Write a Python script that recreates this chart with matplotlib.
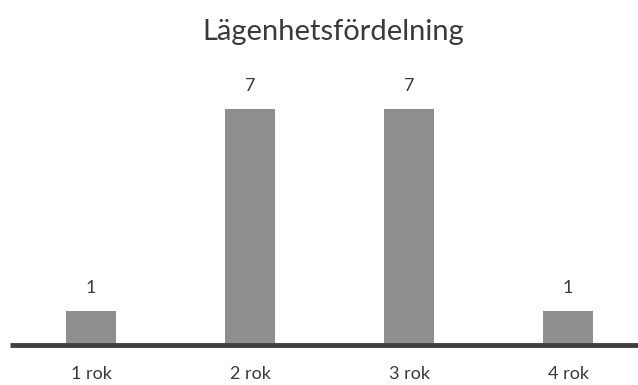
import matplotlib.pyplot as plt
import numpy as np

# Antal lägenheter per storlek
kategorier = ["1 rok", "2 rok", "3 rok", "4 rok"]
antal = [1, 7, 7, 1]

TEXTFARG = "#3a3a3a"
STAPELFARG = "#8e8e8e"

plt.rcParams['font.family'] = ['Lato', 'DejaVu Sans']

fig = plt.figure(figsize=(6.38, 3.85), dpi=100)
ax = fig.add_axes([0, 0.104, 1, 0.70])

x = np.arange(len(kategorier))
ax.bar(x, antal, width=0.32, color=STAPELFARG, zorder=2)

# Värdeetiketter ovanför staplarna
for xi, v in zip(x, antal):
    ax.text(xi, v + 0.45, str(v), ha='center', va='bottom',
            fontsize=13, color=TEXTFARG)

ax.set_xlim(-0.572, 3.44)
ax.set_ylim(0, 8)
# Baslinje, börjar en bit in från vänsterkanten
ax.plot([-0.51, 3.44], [0, 0], color="#404040", linewidth=3.5,
        solid_capstyle='butt', zorder=3, clip_on=False)

for s in ax.spines.values():
    s.set_visible(False)
ax.set_yticks([])
ax.set_xticks(x)
ax.set_xticklabels(kategorier, fontsize=13, color=TEXTFARG)
ax.tick_params(axis='x', length=0, pad=15)

fig.text(0.522, 0.918, "Lägenhetsfördelning", ha='center', va='center',
         fontsize=21, color=TEXTFARG)

fig.savefig("out.png", dpi=100)
